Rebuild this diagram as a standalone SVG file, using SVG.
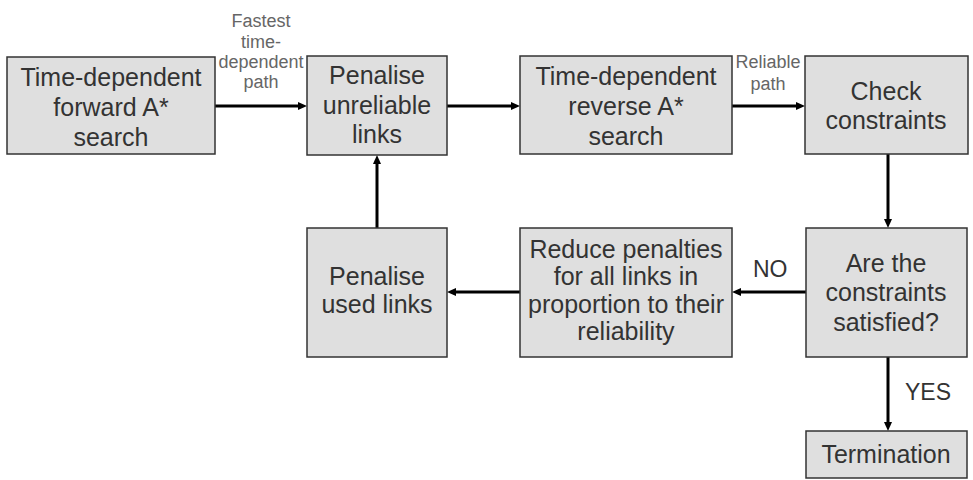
<svg xmlns="http://www.w3.org/2000/svg" width="973" height="480" viewBox="0 0 973 480">
<style>
.box{fill:#dfdfdf;stroke:#333;stroke-width:1.5}
.t{font-family:"Liberation Sans",Arial,sans-serif;font-size:25px;fill:#333;text-anchor:middle}
.lbl{font-family:"Liberation Sans",Arial,sans-serif;font-size:18px;fill:#666;text-anchor:middle}
.yn{font-family:"Liberation Sans",Arial,sans-serif;font-size:23px;fill:#333}
.c{stroke:#000;stroke-width:3;fill:none}
</style>
<defs>
<marker id="ah" markerUnits="userSpaceOnUse" markerWidth="9" markerHeight="8" refX="1" refY="4" orient="auto">
<path d="M0,0 L9,4 L0,8 z" fill="#000"/>
</marker>
</defs>
<rect width="973" height="480" fill="#fff"/>
<g id="connectors">
<line class="c" x1="215" y1="106" x2="299" y2="106" marker-end="url(#ah)"/>
<line class="c" x1="447" y1="106" x2="512" y2="106" marker-end="url(#ah)"/>
<line class="c" x1="732" y1="106" x2="797" y2="106" marker-end="url(#ah)"/>
<line class="c" x1="888" y1="154" x2="888" y2="220" marker-end="url(#ah)"/>
<line class="c" x1="806" y1="292" x2="740" y2="292" marker-end="url(#ah)"/>
<line class="c" x1="520" y1="292" x2="455" y2="292" marker-end="url(#ah)"/>
<line class="c" x1="377" y1="228" x2="377" y2="163" marker-end="url(#ah)"/>
<line class="c" x1="888" y1="357" x2="888" y2="423" marker-end="url(#ah)"/>
<text class="lbl" x="261" y="27">Fastest</text>
<text class="lbl" x="261" y="48">time-</text>
<text class="lbl" x="261" y="68">dependent</text>
<text class="lbl" x="261" y="88">path</text>
<text class="lbl" x="768" y="68">Reliable</text>
<text class="lbl" x="768" y="90">path</text>
<text class="yn" x="753" y="277">NO</text>
<text class="yn" x="905" y="400">YES</text>
</g>
<g id="forward">
<rect class="box" x="7" y="57" width="208" height="97"/>
<text class="t" x="111" y="86">Time-dependent</text>
<text class="t" x="111" y="116">forward A*</text>
<text class="t" x="111" y="146">search</text>
</g>
<g id="penalise-unreliable">
<rect class="box" x="307" y="56" width="140" height="99"/>
<text class="t" x="377" y="84">Penalise</text>
<text class="t" x="377" y="114">unreliable</text>
<text class="t" x="377" y="143">links</text>
</g>
<g id="reverse">
<rect class="box" x="520" y="56" width="212" height="98"/>
<text class="t" x="626" y="85">Time-dependent</text>
<text class="t" x="626" y="115">reverse A*</text>
<text class="t" x="626" y="145">search</text>
</g>
<g id="check">
<rect class="box" x="805" y="56" width="163" height="98"/>
<text class="t" x="886" y="100">Check</text>
<text class="t" x="886" y="129">constraints</text>
</g>
<g id="satisfied">
<rect class="box" x="806" y="228" width="161" height="129"/>
<text class="t" x="886" y="272">Are the</text>
<text class="t" x="886" y="301">constraints</text>
<text class="t" x="886" y="331">satisfied?</text>
</g>
<g id="termination">
<rect class="box" x="806" y="431" width="161" height="47"/>
<text class="t" x="886" y="463">Termination</text>
</g>
<g id="reduce">
<rect class="box" x="520" y="228" width="212" height="129"/>
<text class="t" x="626" y="258">Reduce penalties</text>
<text class="t" x="626" y="285">for all links in</text>
<text class="t" x="626" y="313">proportion to their</text>
<text class="t" x="626" y="340">reliability</text>
</g>
<g id="penalise-used">
<rect class="box" x="307" y="228" width="140" height="129"/>
<text class="t" x="377" y="285">Penalise</text>
<text class="t" x="377" y="313">used links</text>
</g>
</svg>
